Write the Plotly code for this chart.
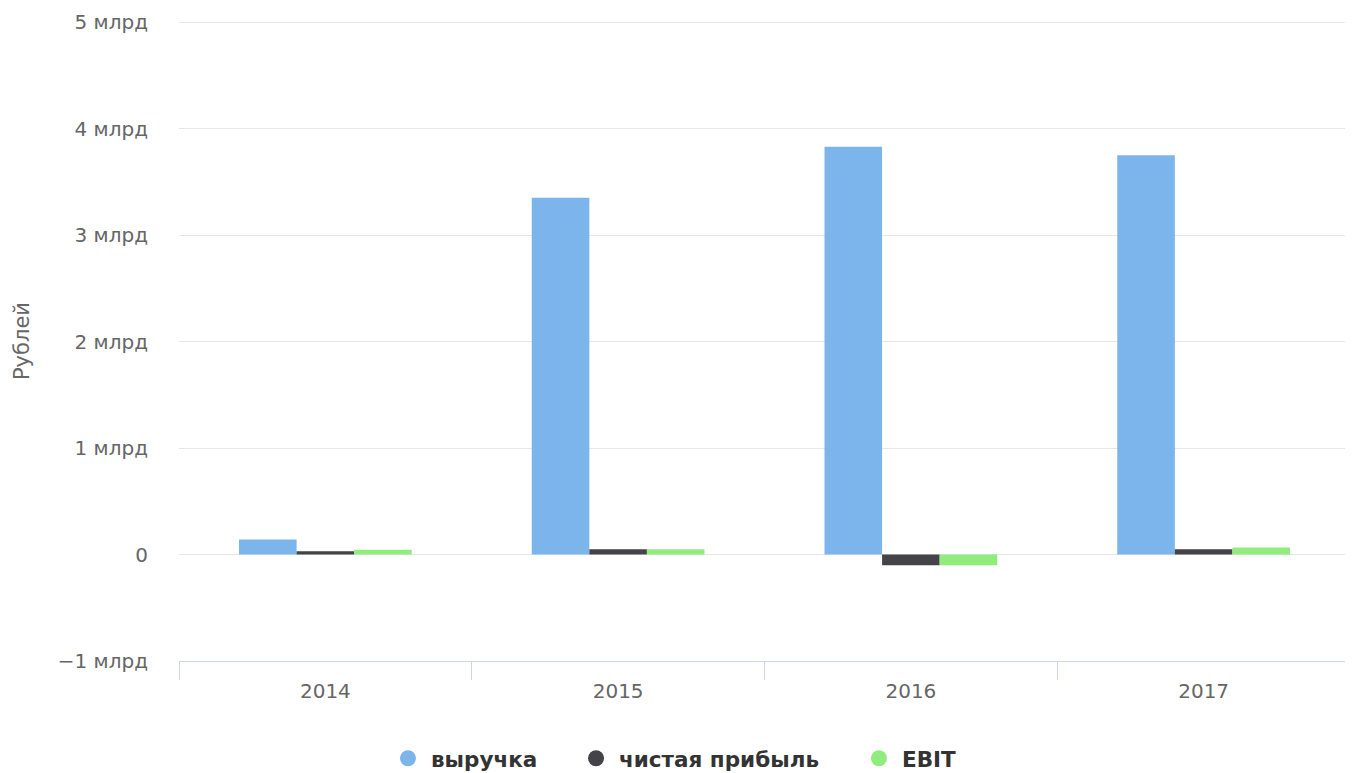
import plotly.graph_objects as go

years = ["2014", "2015", "2016", "2017"]
series_names = ["выручка", "чистая прибыль", "EBIT"]
revenue = [0.14e9, 3.35e9, 3.83e9, 3.75e9]
net_profit = [0.03e9, 0.05e9, -0.10e9, 0.05e9]
ebit = [0.045e9, 0.05e9, -0.10e9, 0.065e9]
colors = ["#7cb5ec", "#434348", "#90ed7d"]
tick_vals = [-1e9, 0, 1e9, 2e9, 3e9, 4e9, 5e9]
tick_text = ["−1 млрд", "0", "1 млрд", "2 млрд", "3 млрд", "4 млрд", "5 млрд"]
y_title = "Рублей"

FONT = "DejaVu Sans"
legend_ids = ["legend", "legend2", "legend3"]
legend_x = [0.1759, 0.3365, 0.5781]

fig = go.Figure()
for name, vals, c in zip(series_names, [revenue, net_profit, ebit], colors):
    fig.add_trace(go.Bar(x=years, y=vals, name=name, marker=dict(color=c, line=dict(width=0)),
                         showlegend=False))
for name, c, lid in zip(series_names, colors, legend_ids):
    fig.add_trace(go.Scatter(x=[None], y=[None], mode="markers", name=name, legend=lid,
                             marker=dict(color=c, size=22, symbol="circle")))

legend_common = dict(orientation="h", xanchor="left", y=-0.152, yanchor="middle",
                     font=dict(family=FONT, size=21.5, color="#333333", weight="bold"),
                     itemwidth=36, bgcolor="rgba(0,0,0,0)")

# page body has an 8px margin, so the figure is 8px smaller and shifted
fig.update_layout(
    width=1345, height=765,
    margin=dict(l=171, r=3, t=13, b=112, autoexpand=False),
    plot_bgcolor="white", paper_bgcolor="white",
    barmode="group", bargap=0.41, bargroupgap=0,
    font=dict(family=FONT, color="#666666", size=20),
    legend=dict(x=legend_x[0], **legend_common),
    legend2=dict(x=legend_x[1], **legend_common),
    legend3=dict(x=legend_x[2], **legend_common),
    xaxis=dict(type="category", showgrid=False, showline=True, linecolor="#ccd6eb", linewidth=1,
               ticks="outside", tickson="boundaries", ticklen=18, tickcolor="#ccd6eb",
               ticklabelstandoff=12,
               tickfont=dict(family=FONT, size=20, color="#666666")),
    yaxis=dict(range=[-1e9, 5.01e9], tickvals=tick_vals, ticktext=tick_text,
               showgrid=True, gridcolor="#e6e6e6", gridwidth=1,
               zeroline=True, zerolinecolor="#e6e6e6", zerolinewidth=1,
               showline=False, ticks="", ticklabelstandoff=30,
               tickfont=dict(family=FONT, size=20, color="#666666")),
    annotations=[dict(text=y_title, xref="paper", yref="paper", x=-0.134, y=0.5,
                      xanchor="center", yanchor="middle", textangle=-90, showarrow=False,
                      font=dict(family=FONT, size=21, color="#666666"))],
)

fig.write_html("out.html")
